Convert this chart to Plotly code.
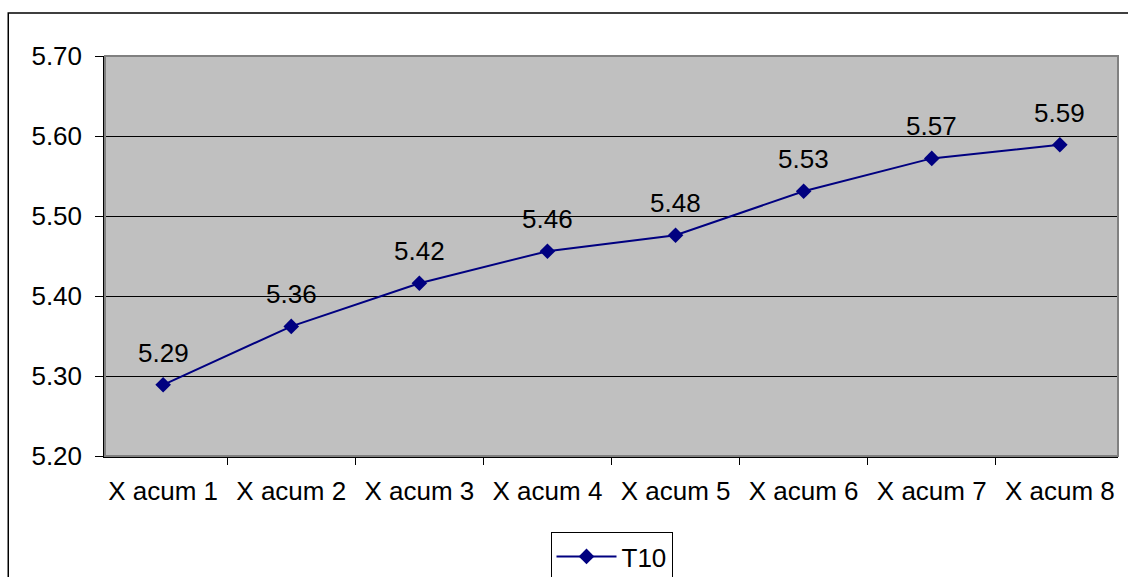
import plotly.graph_objects as go

categories = ["X acum 1", "X acum 2", "X acum 3", "X acum 4",
              "X acum 5", "X acum 6", "X acum 7", "X acum 8"]
values = [5.289, 5.362, 5.416, 5.456, 5.476, 5.531, 5.572, 5.589]
series_name = "T10"
y_ticks = [5.20, 5.30, 5.40, 5.50, 5.60, 5.70]

FONT = "Liberation Sans, Arial, sans-serif"
NAVY = "#000080"
FS = 26

fig = go.Figure()
fig.add_trace(go.Scatter(
    x=categories, y=values, name=series_name,
    mode="lines+markers",
    line=dict(color=NAVY, width=2),
    marker=dict(symbol="diamond", size=12, color=NAVY),
))

for c, v in zip(categories, values):
    fig.add_annotation(x=c, y=v, text=f"{v:.2f}", showarrow=False,
                       yshift=32, font=dict(size=FS, color="black", family=FONT))

# outer chart border
fig.add_shape(type="rect", xref="paper", yref="paper",
              x0=-0.0955, x1=1.2, y0=-0.6, y1=1.1075,
              line=dict(color="black", width=1.5), layer="below")
# plot area border
fig.add_shape(type="rect", xref="paper", yref="paper",
              x0=0, x1=1, y0=0, y1=1,
              line=dict(color="#808080", width=2), layer="above")

fig.update_layout(
    width=1128, height=577,
    margin=dict(l=105, r=10, t=56, b=121, autoexpand=False),
    paper_bgcolor="white", plot_bgcolor="#C0C0C0",
    font=dict(family=FONT, size=FS, color="black"),
    showlegend=True,
    legend=dict(orientation="h", x=0.5, xanchor="center", y=-0.19, yanchor="top",
                bordercolor="black", borderwidth=1, bgcolor="white",
                itemwidth=60, font=dict(size=FS, family=FONT)),
    xaxis=dict(type="category", tickson="boundaries", ticks="outside",
               ticklen=7, tickcolor="black", showgrid=False,
               showline=True, linecolor="black", linewidth=1.5,
               tickfont=dict(size=FS, family=FONT), ticklabelstandoff=11),
    yaxis=dict(range=[5.20, 5.70], tickvals=y_ticks,
               ticktext=[f"{t:.2f}" for t in y_ticks],
               ticks="outside", ticklen=8, tickcolor="black",
               showgrid=True, gridcolor="black", gridwidth=1,
               showline=True, linecolor="black", linewidth=1.5,
               zeroline=False, tickfont=dict(size=FS, family=FONT),
               ticklabelstandoff=8),
)

fig.write_html("out.html")
